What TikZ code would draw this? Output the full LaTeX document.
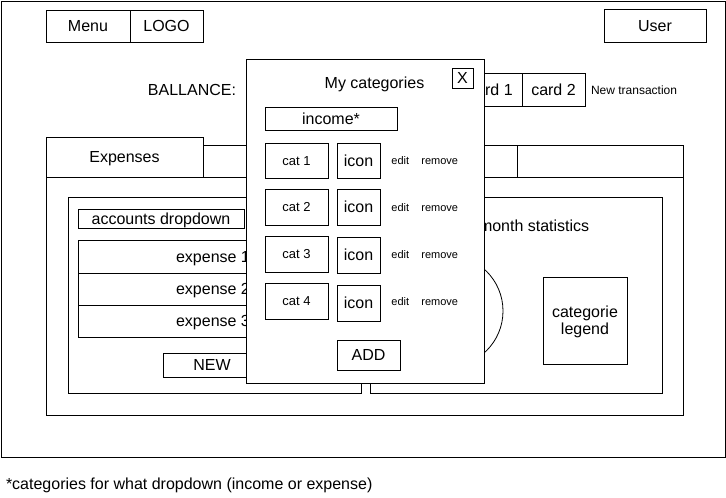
\documentclass[tikz,border=0pt]{standalone}
\usepackage{fontspec}
\setmainfont{Liberation Sans}
\newcommand\mybox[7][]{\node[bx,#1,minimum width={(#5-#3)*1pt},minimum height={(#6-#4)*1pt}] (#2) at ({(#3+#5)/2},{(#4+#6)/2}) {#7};}
\tikzset{
  bx/.style={draw, line width=1pt, fill=white, inner sep=0pt, outer sep=0pt, f16},
  f16/.style={font=\fontsize{16}{18}\selectfont, text height=11.5pt, text depth=0pt},
  f13/.style={font=\fontsize{13}{15}\selectfont, text height=9.3pt, text depth=0pt},
  f12/.style={font=\fontsize{12}{14}\selectfont, text height=8.6pt, text depth=0pt},
  f11/.style={font=\fontsize{11}{13}\selectfont, text height=7.9pt, text depth=0pt},
  txt/.style={inner sep=0pt, outer sep=0pt},
}
\begin{document}
\begin{tikzpicture}[x=1pt, y=-1pt]
\useasboundingbox (0,0) rectangle (726,498);
% outer frame
\mybox{frame}{1}{1}{725}{457}{}
% header
\mybox{menu}{46}{10}{130}{42}{Menu}
\mybox{logo}{130}{10}{203}{42}{LOGO}
\mybox{user}{604}{9}{706}{42}{User}
\node[txt, f16] (bal) at (192,90) {BALLANCE:};
\mybox{card1}{459}{73}{522}{106}{card 1}
\mybox{card2}{522}{73}{585}{106}{card 2}
\node[txt, f12, anchor=west] (newtr) at (591,90) {New transaction};
% tabs and main panel
\mybox{tab1}{46}{137}{203}{177}{Expenses}
\mybox{tab2}{203}{145}{517}{177}{}
\mybox{tab3}{517}{145}{683}{177}{}
\mybox{main}{46}{177}{683}{415}{}
% left panel
\mybox{left}{68}{197}{361}{393}{}
\mybox{acc}{78}{209}{244}{228}{accounts dropdown}
\mybox{exp1}{78}{240}{348}{273}{expense 1}
\mybox{exp2}{78}{273}{348}{305}{expense 2}
\mybox{exp3}{78}{305}{348}{337}{expense 3}
\mybox{new}{163}{353}{261}{377}{NEW}
% right panel
\mybox{right}{370}{197}{662}{393}{}
\node[txt, f16, anchor=west] (stat) at (479,226) {month statistics};
\node[draw, circle, line width=0.8pt, minimum size=112pt, inner sep=0pt] (pie) at (447,311) {};
\node[draw, line width=1pt, inner sep=0pt, minimum width=84pt, minimum height=87pt] (legbox) at (585,320.5) {};
\node[txt, align=center, font=\fontsize{16}{17.5}\selectfont] (legend) at (585,322) {categorie\\legend};
% popup
\mybox{popup}{246}{59}{484}{383}{}
\node[txt, f16] (title) at (374.5,83) {My categories};
\mybox{xbtn}{452}{68}{473}{88}{X}
\mybox{income}{265}{107}{397}{130}{income*}
\mybox[f13]{cat1}{265}{143}{328}{178}{cat 1}
\mybox{icon1}{337}{143}{380}{178}{icon}
\mybox[f13]{cat2}{265}{189}{328}{225}{cat 2}
\mybox{icon2}{337}{189}{380}{225}{icon}
\mybox[f13]{cat3}{265}{236}{328}{272}{cat 3}
\mybox{icon3}{337}{237}{380}{273}{icon}
\mybox[f13]{cat4}{265}{283}{328}{319}{cat 4}
\mybox{icon4}{337}{285}{380}{321}{icon}
\node[txt, f11] (edit1) at (400.3,161) {edit};
\node[txt, f11] (rem1) at (439.7,161) {remove};
\node[txt, f11] (edit2) at (400.3,208) {edit};
\node[txt, f11] (rem2) at (439.7,208) {remove};
\node[txt, f11] (edit3) at (400.3,255) {edit};
\node[txt, f11] (rem3) at (439.7,255) {remove};
\node[txt, f11] (edit4) at (400.3,302) {edit};
\node[txt, f11] (rem4) at (439.7,302) {remove};
\mybox{add}{337}{340}{400}{370}{ADD}
% footnote
\node[txt, f16, anchor=west] (note) at (6,484) {*categories for what dropdown (income or expense)};
\end{tikzpicture}
\end{document}
